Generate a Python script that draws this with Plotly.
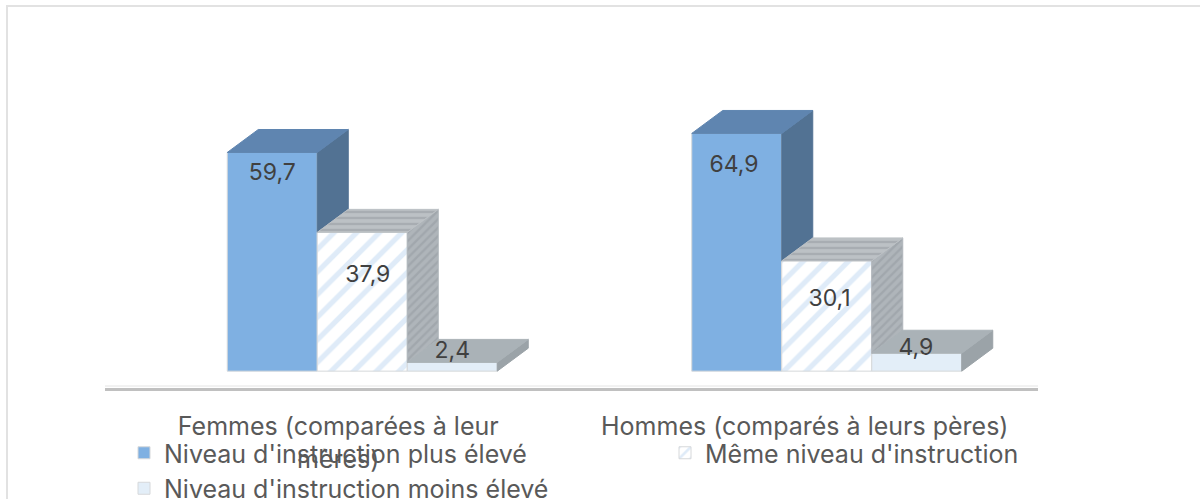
import plotly.graph_objects as go

categories = ["Femmes (comparées à leur<br>mères)", "Hommes (comparés à leurs pères)"]
series_names = ["Niveau d'instruction plus élevé", "Même niveau d'instruction", "Niveau d'instruction moins élevé"]
plus_eleve = [59.7, 64.9]
meme_niveau = [37.9, 30.1]
moins_eleve = [2.4, 4.9]
label_heights = [[53.65, 55.85], [25.85, 19.35], [5.15, 5.95]]
label_shift = [[0.0, -0.006], [0.012, 0.006], [0.0, -0.002]]

WIDTH, HEIGHT = 1200, 499
LEFT, RIGHT, TOP, BOTTOM = 105, 162, 77, 111
plot_w = WIDTH - LEFT - RIGHT
plot_h = HEIGHT - TOP - BOTTOM
BAR_W = 90 / 466.5
GROUP_SHIFT = [24 / 466.5, 22 / 466.5]
DX, DY = 31 / 466.5, 23 / 3.67

series = [plus_eleve, meme_niveau, moins_eleve]
front_colors = ["#7fb0e2", "#ffffff", "#e3eef8"]
top_colors = ["#5f85b0", "#bcc1c5", "#aab2b7"]
side_colors = ["#527293", "#afb5ba", "#9ba3a8"]
hatched = [False, True, False]
legend_ids = ["legend", "legend2", "legend"]

fig = go.Figure()


def add_face(xs, ys, color, stripe_shape, edge):
    pattern = None
    if stripe_shape:
        pattern = dict(shape=stripe_shape, fgcolor="#939a9f", bgcolor=color, size=6, solidity=0.4)
    fig.add_trace(go.Scatter(x=xs, y=ys, mode="lines", fill="toself", fillcolor=color, fillpattern=pattern,
                             line=dict(color=edge, width=1), hoverinfo="skip", showlegend=False))


for i, values in enumerate(series):
    pattern = dict(shape="/", fgcolor="#bfd8f1", bgcolor="#ffffff", size=16, solidity=0.33) if hatched[i] else None
    left_edges = [g + GROUP_SHIFT[g] + (i - 1.5) * BAR_W for g in range(len(values))]
    fig.add_trace(go.Bar(x=left_edges, y=values, width=BAR_W, offset=0, name=series_names[i], legend=legend_ids[i],
                         marker=dict(color=front_colors[i], pattern=pattern, line=dict(color="#d6d8da", width=1))))

for i, values in enumerate(series):
    for g, v in enumerate(values):
        x0 = g + GROUP_SHIFT[g] + (i - 1.5) * BAR_W
        x1 = x0 + BAR_W
        floor = series[i + 1][g] if i + 1 < len(series) else 0
        add_face([x1, x1 + DX, x1 + DX, x1, x1], [v, v + DY, floor + DY, floor, v], side_colors[i],
                 "/" if hatched[i] else None, side_colors[i])
        add_face([x0, x0 + DX, x1 + DX, x1, x0], [v, v + DY, v + DY, v, v], top_colors[i],
                 "-" if hatched[i] else None, top_colors[i])

for i, values in enumerate(series):
    fig.add_trace(go.Scatter(
        x=[g + GROUP_SHIFT[g] + (i - 1) * BAR_W + label_shift[i][g] for g in range(len(values))],
        y=label_heights[i], mode="text", text=[f"{v:.1f}".replace(".", ",") for v in values],
        textfont=dict(family="Inter", size=23, color="#404040"), hoverinfo="skip", showlegend=False))

# outer frame of the page, its bottom and right sides fall outside the picture
fig.add_shape(type="path", xref="paper", yref="paper", line=dict(color="#e2e2e2", width=2),
              path=f"M {(7 - LEFT) / plot_w} {(TOP + plot_h - HEIGHT) / plot_h} "
                   f"L {(7 - LEFT) / plot_w} {(TOP + plot_h - 6) / plot_h} "
                   f"L {(WIDTH - LEFT) / plot_w} {(TOP + plot_h - 6) / plot_h}")
# lighter edge on top of the floor line
fig.add_shape(type="line", xref="paper", yref="paper", x0=0, x1=1, y0=2 / plot_h, y1=2 / plot_h,
              line=dict(color="#e4e4e4", width=1))

legend_style = dict(xref="container", yref="container", xanchor="left", y=(HEIGHT - 430) / HEIGHT, yanchor="top",
                    font=dict(size=25, color="#595959"), bgcolor="rgba(0,0,0,0)", traceorder="normal",
                    tracegroupgap=0)

fig.update_layout(
    width=WIDTH, height=HEIGHT, margin=dict(l=LEFT, r=RIGHT, t=TOP, b=BOTTOM, autoexpand=False),
    paper_bgcolor="#ffffff", plot_bgcolor="#ffffff", barmode="overlay",
    font=dict(family="Inter", color="#595959"),
    xaxis=dict(range=[-0.5, 1.5], tickvals=[0, 1], ticktext=categories, showgrid=False, zeroline=False,
               showline=True, linecolor="#c0c0c0", linewidth=3, ticks="outside", ticklen=14,
               tickcolor="rgba(0,0,0,0)", tickfont=dict(size=25, color="#595959")),
    yaxis=dict(range=[-4.6, 80.3], visible=False),
    legend=dict(x=124 / WIDTH, **legend_style),
    legend2=dict(x=665 / WIDTH, **legend_style),
)

fig.write_html("out.html", config=dict(displayModeBar=False),
               post_script="document.body.style.margin='0';document.body.style.overflow='hidden';")
